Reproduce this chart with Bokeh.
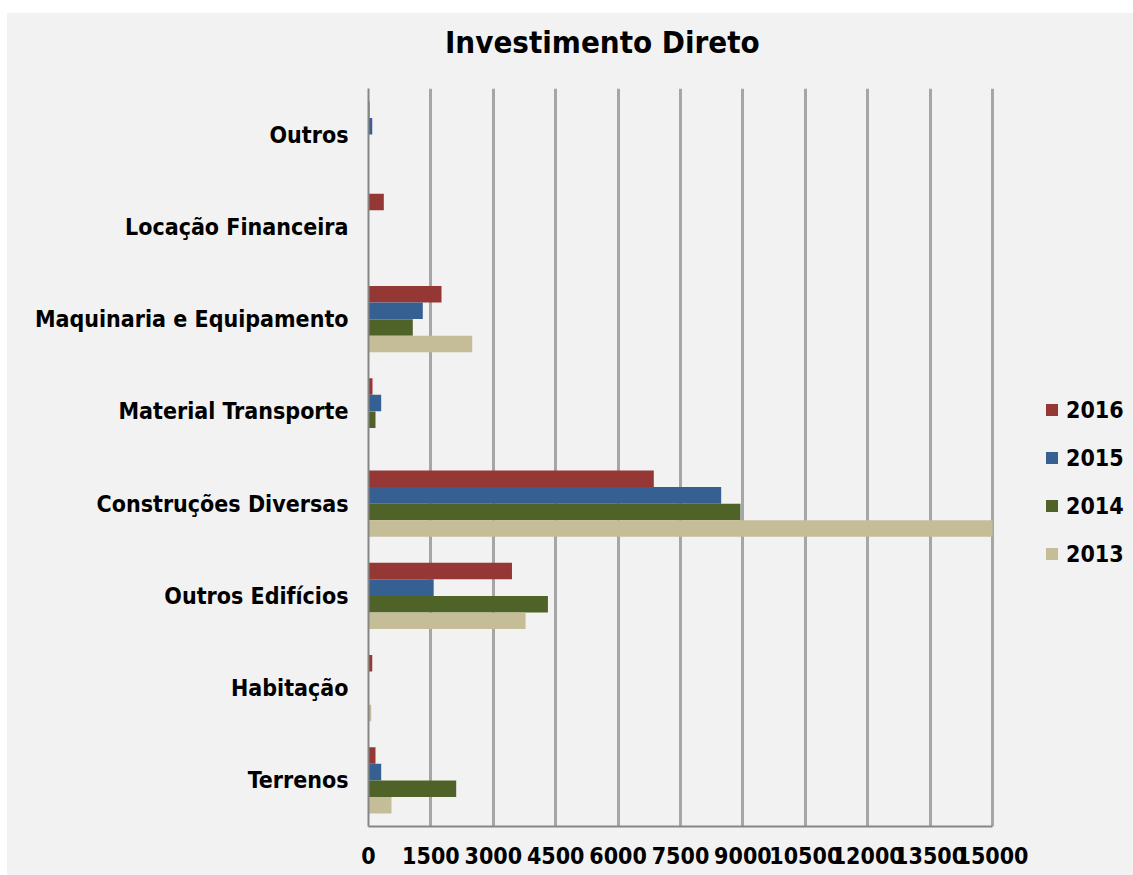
from bokeh.plotting import figure
from bokeh.models import (Range1d, FactorRange, FixedTicker, Legend, LegendItem,
                          ColumnDataSource, Spacer, Div)
from bokeh.layouts import column, row
from bokeh.transform import dodge
from bokeh.embed import file_html
from bokeh.resources import INLINE

# ---------------- data ----------------
categories = ["Terrenos", "Habitação", "Outros Edifícios", "Construções Diversas",
              "Material Transporte", "Maquinaria e Equipamento", "Locação Financeira", "Outros"]
v2016 = [168, 90, 3449, 6858, 96, 1755, 368, 25]
v2015 = [305, 0, 1567, 8478, 305, 1305, 0, 90]
v2014 = [2108, 0, 4313, 8942, 168, 1065, 0, 0]
v2013 = [553, 65, 3776, 15000, 0, 2493, 0, 0]
series_names = ["2016", "2015", "2014", "2013"]
x_ticks = [0, 1500, 3000, 4500, 6000, 7500, 9000, 10500, 12000, 13500, 15000]
title_text = "Investimento Direto"

colors = ["#953735", "#376092", "#4f6228", "#c4bd97"]
offsets = [0.27, 0.09, -0.09, -0.27]
FONT = "DejaVu Sans Condensed, Roboto"
BG = "#f2f2f2"

# layout geometry (pixels)
FIG_W = 1126
TITLE_H = 75
FIG_H = 862 - TITLE_H
BORDER_L, BORDER_B = 361, 49
AXIS_PX = 624                      # pixel length of the 0..15000 axis
frame_w = FIG_W - BORDER_L
x_max = x_ticks[-1]
x_end = x_max * frame_w / AXIS_PX  # leave room on the right for the legend

src = ColumnDataSource(dict(cat=categories, v2016=v2016, v2015=v2015, v2014=v2014, v2013=v2013))

p = figure(width=FIG_W, height=FIG_H, output_backend="svg", toolbar_location=None,
           y_range=FactorRange(factors=categories, range_padding=0),
           x_range=Range1d(0, x_end),
           min_border_left=BORDER_L, min_border_right=0, min_border_top=0,
           min_border_bottom=BORDER_B)
p.background_fill_color = BG
p.border_fill_color = BG
p.outline_line_color = None

renderers = []
for name, col, off in zip(series_names, colors, offsets):
    r = p.hbar(y=dodge("cat", off, range=p.y_range), right="v" + name, left=0, height=0.18,
               source=src, fill_color=col, line_color=None)
    renderers.append(r)

# axes
p.xaxis.ticker = FixedTicker(ticks=x_ticks)
p.xaxis.bounds = (0, x_max)
p.xaxis.major_label_text_font = FONT
p.xaxis.major_label_text_font_style = "bold"
p.xaxis.major_label_text_font_size = "23px"
p.xaxis.major_label_text_color = "#000000"
p.xaxis.major_label_standoff = 20
p.xaxis.major_tick_out = 0
p.xaxis.major_tick_in = 0
p.xaxis.minor_tick_out = 0
p.xaxis.minor_tick_in = 0
p.xaxis.axis_line_color = "#868686"
p.xaxis.axis_line_width = 2

p.yaxis.major_label_text_font = FONT
p.yaxis.major_label_text_font_style = "bold"
p.yaxis.major_label_text_font_size = "23px"
p.yaxis.major_label_text_color = "#000000"
p.yaxis.major_label_standoff = 20
p.yaxis.major_tick_out = 0
p.yaxis.major_tick_in = 0
p.yaxis.axis_line_color = "#868686"
p.yaxis.axis_line_width = 2

p.xgrid.grid_line_color = "#a6a6a6"
p.xgrid.grid_line_width = 3
p.ygrid.grid_line_color = None

# legend (inside the widened frame, to the right of the 15000 line)
legend = Legend(items=[LegendItem(label=n, renderers=[r]) for n, r in zip(series_names, renderers)],
                location=(676, 259), orientation="vertical",
                glyph_width=15, glyph_height=15, label_height=27, spacing=21,
                label_standoff=7, padding=0, margin=0,
                label_text_font=FONT, label_text_font_style="bold",
                label_text_font_size="23px", label_text_color="#000000",
                background_fill_alpha=0, border_line_color=None)
p.add_layout(legend, "center")

# chart title as a text block above the plot
title_div = Div(
    text=(f'<div style="padding-left:438px; padding-top:11px; margin:0; '
          f'font-family:\'DejaVu Sans Condensed\', Roboto; font-weight:bold; font-size:31px; '
          f'line-height:normal; color:#000000; white-space:nowrap;">{title_text}</div>'),
    width=FIG_W, height=TITLE_H, margin=0,
    styles={"background-color": BG})

chart = column(title_div, p, spacing=0, styles={"background-color": BG})
layout = column(Spacer(height=13, width=1133),
                row(Spacer(width=7, height=862), chart),
                spacing=0)

open("out.html", "w").write(file_html(layout, INLINE))
